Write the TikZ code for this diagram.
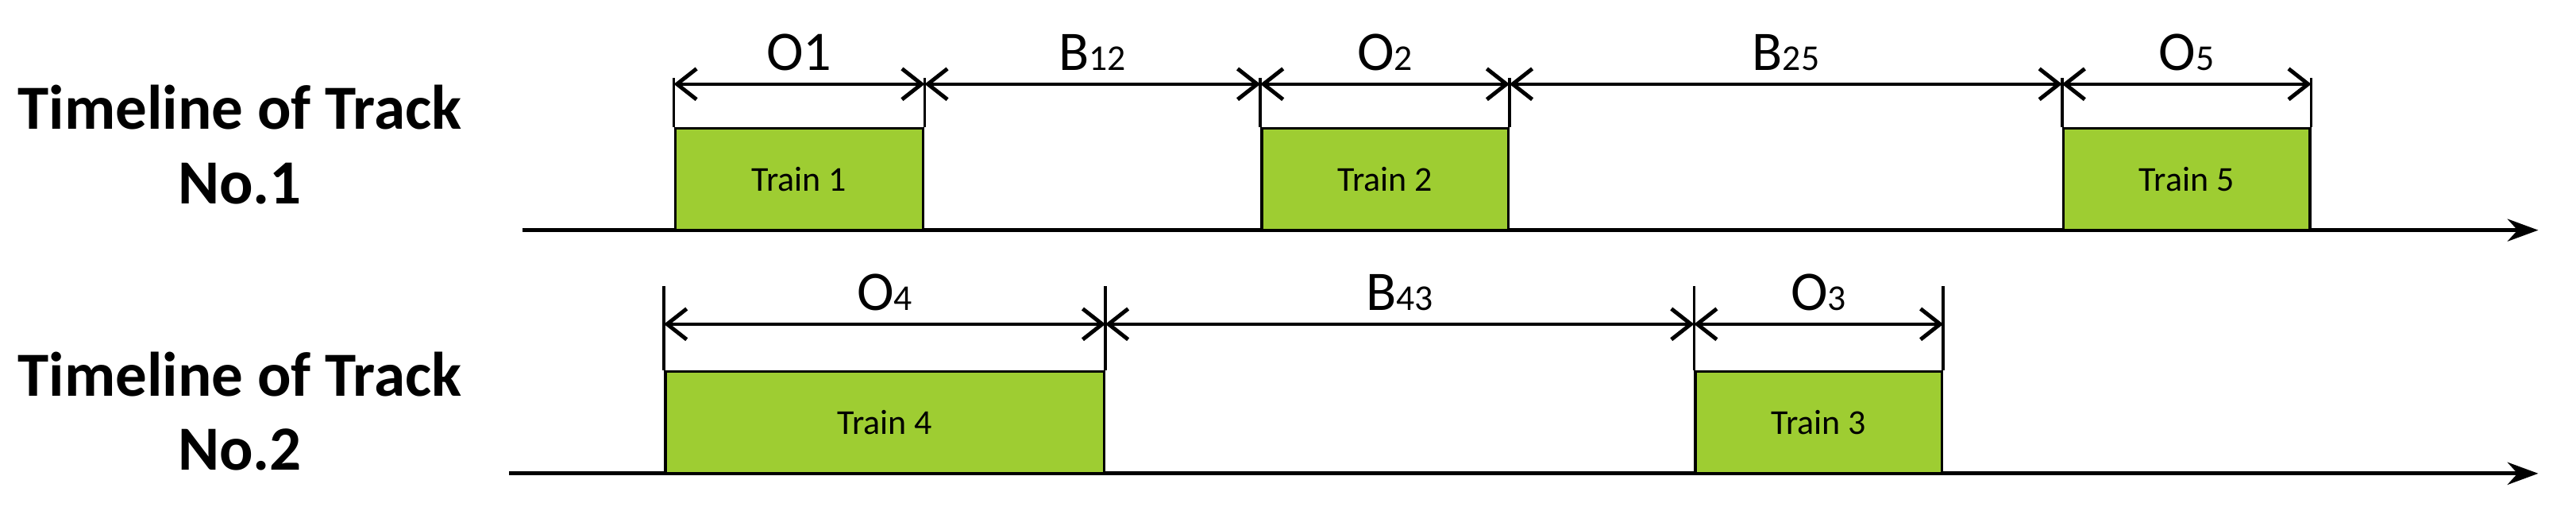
\documentclass[tikz,border=0pt]{standalone}
\usepackage{fontspec}
\setmainfont{Carlito}
\usetikzlibrary{arrows.meta}
\newcommand{\lbl}[2]{{\fontsize{20}{22}\selectfont #1}{\fontsize{13}{15}\selectfont #2}}
\begin{document}
\begin{tikzpicture}[x=0.02069cm,y=-0.02069cm,
    train/.style={%
      draw,
      line width=1pt,
      fill={rgb,255:red,158;green,205;blue,50},
      minimum height=62*0.02069cm,
      inner sep=0pt,
      font=\fontsize{12.5}{14}\selectfont,
    },
    title/.style={%
      align=center,
      font=\bfseries\fontsize{22.5}{26.5}\selectfont,
    },
    axis/.style={line width=1.5pt,-{Stealth[length=11pt,width=8pt]}},
    span/.style={line width=1.1pt,{Straight Barb[length=7pt,width=11pt,line width=1.4pt]}-{Straight Barb[length=7pt,width=11pt,line width=1.4pt]}},
  ]
    \useasboundingbox (0,0) rectangle (1568,308);

    % track 1
    \node [title] (T1) at (146,88) {Timeline of Track\\No.1};
    \coordinate (A1s) at (318,140);
    \coordinate (A1e) at (1545,140);
    \draw [axis] (A1s) -- (A1e);
    \node [train,minimum width=151*0.02069cm] (R1) at (486.5,109) {Train 1};
    \node [train,minimum width=150*0.02069cm] (R2) at (843,109) {Train 2};
    \node [train,minimum width=150*0.02069cm] (R5) at (1331,109) {Train 5};
    \foreach \n in {1,2,5} {
      \draw [line width=1pt] (R\n.north west) -- ++(0,-30) coordinate (R\n l);
      \draw [line width=1pt] (R\n.north east) -- ++(0,-30) coordinate (R\n r);
    }
    \draw [span] ([yshift=-4*0.02069cm]R1l) -- node [above=1pt] {\lbl{O1}{}} ([yshift=-4*0.02069cm]R1r);
    \draw [span] ([yshift=-4*0.02069cm]R1r) -- node [above=1pt] {\lbl{B}{12}} ([yshift=-4*0.02069cm]R2l);
    \draw [span] ([yshift=-4*0.02069cm]R2l) -- node [above=1pt] {\lbl{O}{2}} ([yshift=-4*0.02069cm]R2r);
    \draw [span] ([yshift=-4*0.02069cm]R2r) -- node [above=1pt] {\lbl{B}{25}} ([yshift=-4*0.02069cm]R5l);
    \draw [span] ([yshift=-4*0.02069cm]R5l) -- node [above=1pt] {\lbl{O}{5}} ([yshift=-4*0.02069cm]R5r);

    % track 2
    \node [title] (T2) at (146,250) {Timeline of Track\\No.2};
    \coordinate (A2s) at (310,288);
    \coordinate (A2e) at (1545,288);
    \draw [axis] (A2s) -- (A2e);
    \node [train,minimum width=267*0.02069cm] (R4) at (538.5,257) {Train 4};
    \node [train,minimum width=150*0.02069cm] (R3) at (1107,257) {Train 3};
    \foreach \n in {4,3} {
      \draw [line width=1pt] (R\n.north west) -- ++(0,-51) coordinate (R\n l);
      \draw [line width=1pt] (R\n.north east) -- ++(0,-51) coordinate (R\n r);
    }
    \draw [span] ([yshift=-23*0.02069cm]R4l) -- node [above=1pt] {\lbl{O}{4}} ([yshift=-23*0.02069cm]R4r);
    \draw [span] ([yshift=-23*0.02069cm]R4r) -- node [above=1pt] {\lbl{B}{43}} ([yshift=-23*0.02069cm]R3l);
    \draw [span] ([yshift=-23*0.02069cm]R3l) -- node [above=1pt] {\lbl{O}{3}} ([yshift=-23*0.02069cm]R3r);
\end{tikzpicture}
\end{document}
